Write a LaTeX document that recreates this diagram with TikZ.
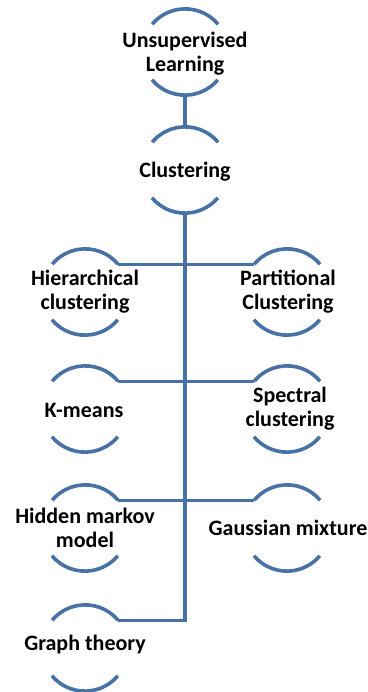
\documentclass[tikz,border=0pt]{standalone}
\usepackage{fontspec}
\setmainfont{Carlito}
\definecolor{arcblue}{RGB}{72,113,166}
\tikzset{
  ring/.style={circle, minimum size=86pt, inner sep=0pt, draw=none},
  lbl/.style={align=center, font=\fontsize{22}{24}\selectfont\bfseries, inner sep=0pt},
  arcline/.style={draw=arcblue, line width=3.6pt},
  link/.style={draw=arcblue, line width=3.2pt}
}
\begin{document}
\begin{tikzpicture}[x=1pt,y=1pt]
\useasboundingbox (0,0) rectangle (367,-692);
\node[ring] (u)  at (185,-52)  {};
\node[ring] (c)  at (185,-170) {};
\node[ring] (h)  at (85,-292)  {};
\node[ring] (p)  at (287,-292) {};
\node[ring] (k)  at (85,-409)  {};
\node[ring] (s)  at (287,-409) {};
\node[ring] (m)  at (85,-528)  {};
\node[ring] (gm) at (287,-528) {};
\node[ring] (g)  at (85,-648)  {};
\foreach \n in {u,c,h,p,k,s,m,gm,g}{
  \draw[arcline] (\n.40) arc[start angle=40, end angle=140, radius=43pt];
  \draw[arcline] (\n.220) arc[start angle=220, end angle=320, radius=43pt];
}
\node[lbl] (tu)  at (185,-54)  {Unsupervised\\Learning};
\node[lbl] (tc)  at (185,-172) {Clustering};
\node[lbl] (th)  at (85,-292)  {Hierarchical\\clustering};
\node[lbl] (tp)  at (288,-292) {Partitional\\Clustering};
\node[lbl] (tk)  at (84,-410)  {K-means};
\node[lbl] (ts)  at (290,-409) {Spectral\\clustering};
\node[lbl] (tm)  at (85,-528)  {Hidden markov\\model};
\node[lbl] (tgm) at (288,-528) {Gaussian mixture};
\node[lbl] (tg)  at (85,-645)  {Graph theory};
\draw[link] (u.south) -- (c.north);
\draw[link] (c.south) |- (g.40);
\draw[link] (h.40) -- (p.140);
\draw[link] (k.40) -- (s.140);
\draw[link] (m.40) -- (gm.140);
\end{tikzpicture}
\end{document}
